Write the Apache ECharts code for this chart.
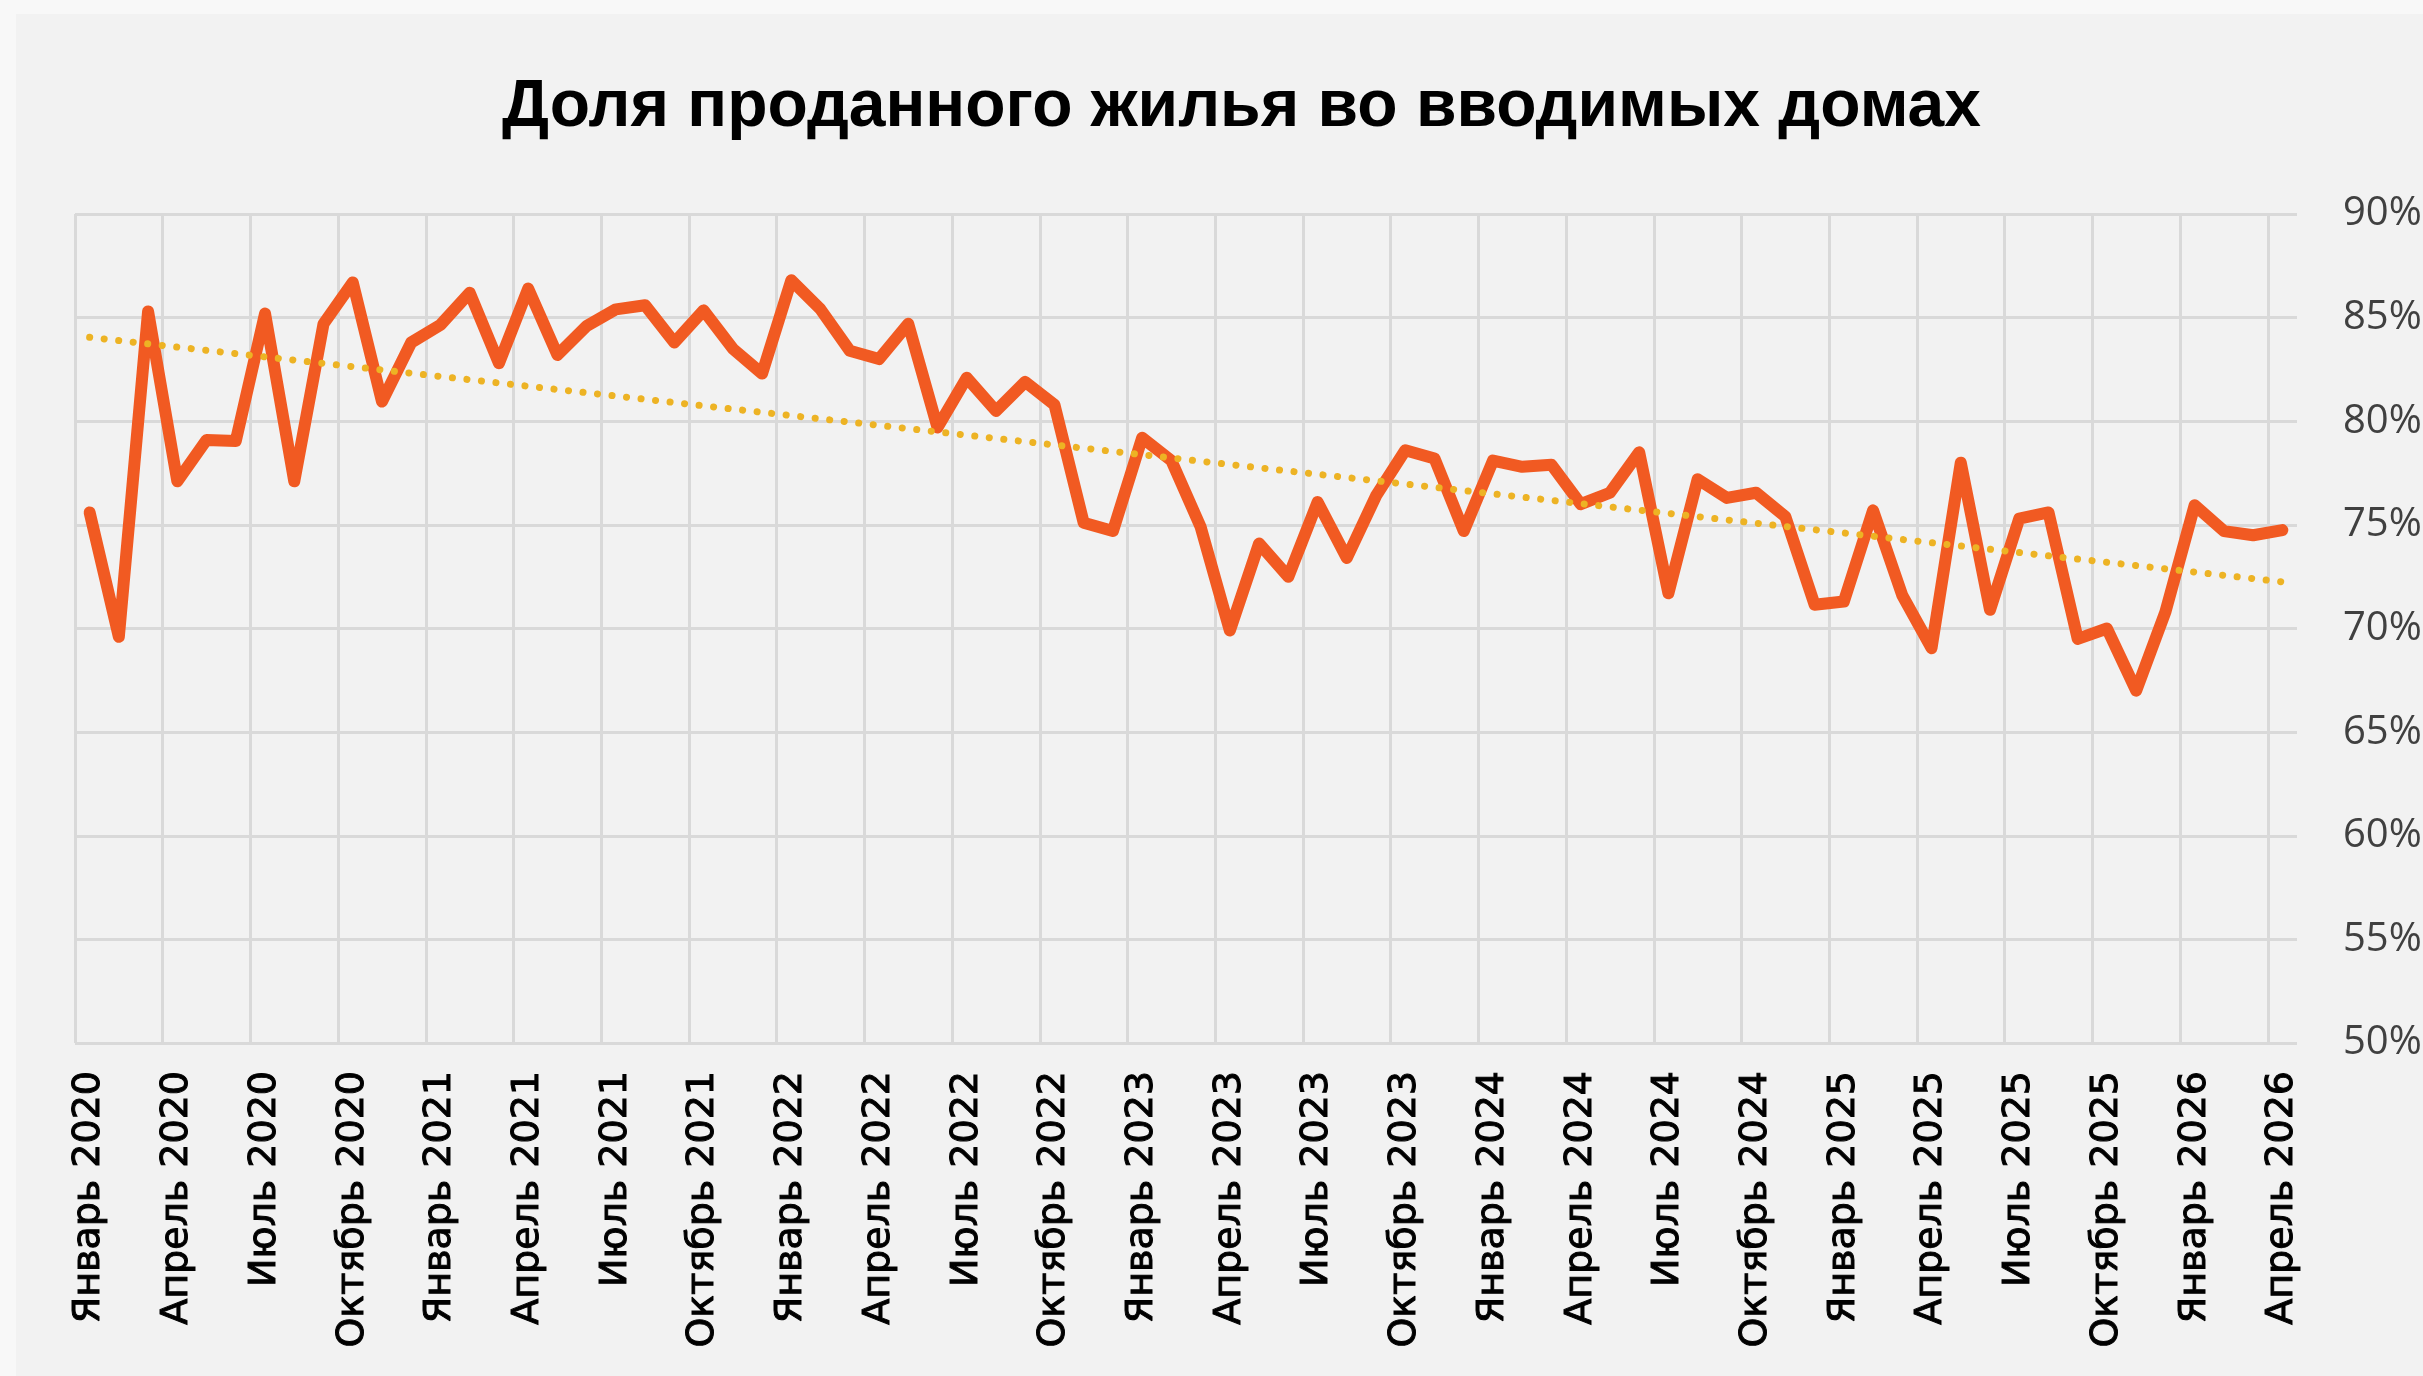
<!DOCTYPE html>
<html>
<head>
<meta charset="utf-8">
<script src="https://cdn.jsdelivr.net/npm/echarts@6/dist/echarts.min.js"></script>
<style>
  html, body { margin: 0; padding: 0; background: #f8f8f8; }
  #bg { position: absolute; left: 16px; top: 14px; right: 0; bottom: 0; background: #f2f2f2; }
  #chart { position: absolute; left: 0; top: 0; width: 2423px; height: 1376px; }
</style>
</head>
<body>
<div id="bg"></div>
<div id="chart"></div>
<script>
const monthNames = ['Январь','Февраль','Март','Апрель','Май','Июнь','Июль','Август','Сентябрь','Октябрь','Ноябрь','Декабрь'];
const years = [2020, 2021, 2022, 2023, 2024, 2025, 2026];
const monthsInLastYear = 4;

const categories = [];
years.forEach((y, yi) => {
  const n = yi === years.length - 1 ? monthsInLastYear : 12;
  for (let m = 0; m < n; m++) categories.push(monthNames[m] + ' ' + y);
});

// Доля проданного жилья, %
const soldShare = [
  75.6, 69.6, 85.3, 77.1, 79.1, 79.05, 85.2, 77.1, 84.7, 86.7, 80.95, 83.8,
  84.65, 86.2, 82.8, 86.4, 83.2, 84.6, 85.4, 85.6, 83.8, 85.35, 83.5, 82.3,
  86.8, 85.4, 83.4, 83.0, 84.7, 79.7, 82.1, 80.5, 81.9, 80.8, 75.1, 74.7,
  79.2, 78.1, 74.9, 69.9, 74.1, 72.5, 76.1, 73.4, 76.4, 78.6, 78.2, 74.7,
  78.1, 77.8, 77.9, 76.0, 76.55, 78.5, 71.7, 77.2, 76.3, 76.55, 75.4, 71.15,
  71.3, 75.7, 71.6, 69.05, 78.0, 70.9, 75.3, 75.6, 69.5, 70.0, 67.0, 70.8,
  75.95, 74.7, 74.5, 74.75
];

// Линейный тренд: значения на концах
const trendStart = 84.05;
const trendEnd = 72.25;

const yTicks = { min: 50, max: 90, interval: 5 };

const trendData = [[0, trendStart], [categories.length - 1, trendEnd]];

const chart = echarts.init(document.getElementById('chart'), null, { renderer: 'canvas' });
chart.setOption({
  backgroundColor: 'transparent',
  animation: false,
  title: {
    text: 'Доля проданного жилья во вводимых домах',
    left: 497,
    top: 70,
    textStyle: {
      fontFamily: 'Liberation Sans, Arial, sans-serif',
      fontWeight: 'bold',
      fontSize: 66,
      color: '#000000'
    }
  },
  grid: { left: 75, right: 126, top: 214, bottom: 333, containLabel: false, outerBoundsMode: 'none' },
  xAxis: {
    type: 'category',
    data: categories,
    boundaryGap: true,
    axisLine: { show: false },
    axisTick: { show: false },
    axisLabel: {
      interval: 2,
      rotate: 90,
      margin: 28,
      fontFamily: 'DejaVu Sans, sans-serif',
      fontSize: 38,
      color: '#000000',
      textBorderColor: '#000000',
      textBorderWidth: 1
    },
    splitLine: {
      show: true,
      interval: 2,
      showMaxLine: false,
      lineStyle: { color: '#d9d9d9', width: 3 }
    }
  },
  yAxis: {
    type: 'value',
    position: 'right',
    min: yTicks.min,
    max: yTicks.max,
    interval: yTicks.interval,
    axisLine: { show: false },
    axisTick: { show: false },
    axisLabel: {
      formatter: '{value}%',
      margin: 46,
      fontFamily: 'Open Sans, sans-serif',
      fontSize: 40,
      color: '#404040'
    },
    splitLine: { show: true, lineStyle: { color: '#d9d9d9', width: 3 } }
  },
  series: [
    {
      type: 'line',
      data: soldShare,
      symbol: 'none',
      smooth: false,
      z: 2,
      lineStyle: { color: '#F15A22', width: 12, join: 'round', cap: 'round' }
    },
    {
      type: 'line',
      data: trendData,
      symbol: 'none',
      z: 3,
      lineStyle: { color: '#EDB324', width: 7, type: [0.1, 14.5], cap: 'round' }
    }
  ]
});
</script>
</body>
</html>
